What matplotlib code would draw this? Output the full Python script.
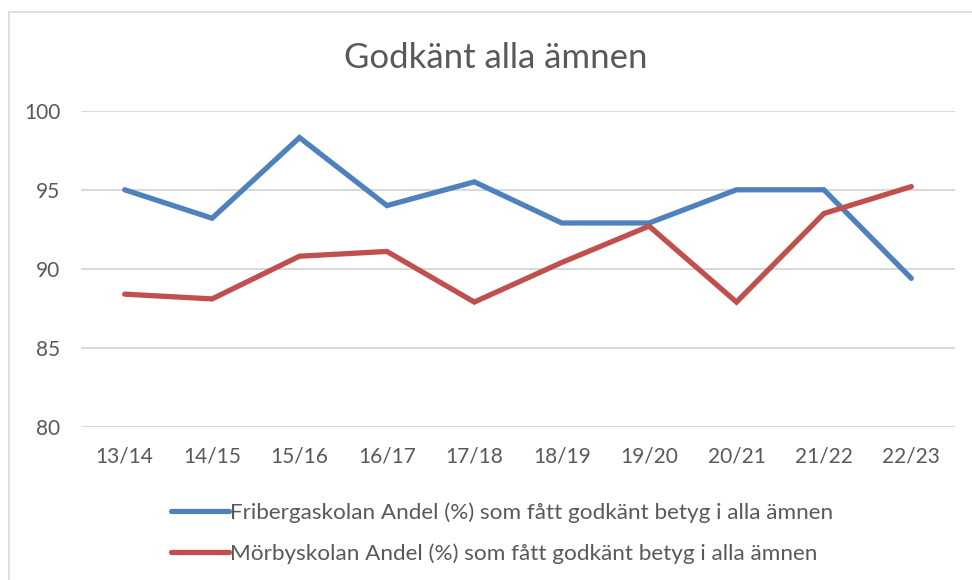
import matplotlib.pyplot as plt
from matplotlib.patches import Rectangle

years = ['13/14', '14/15', '15/16', '16/17', '17/18', '18/19', '19/20', '20/21', '21/22', '22/23']
friberga = [95.0, 93.2, 98.3, 94.0, 95.5, 92.9, 92.9, 95.0, 95.0, 89.4]
morby = [88.4, 88.1, 90.8, 91.1, 87.9, 90.4, 92.7, 87.9, 93.5, 95.2]
labels = ['Fribergaskolan Andel (%) som fått godkänt betyg i alla ämnen',
          'Mörbyskolan Andel (%) som fått godkänt betyg i alla ämnen']

plt.rcParams['font.family'] = ['Lato', 'DejaVu Sans']
grey = '#595959'

fig = plt.figure(figsize=(9.72, 5.8), dpi=100)
ax = fig.add_axes([81 / 972, 1 - 427 / 580, 874 / 972, (427 - 110.7) / 580])

x = range(len(years))
ax.plot(x, friberga, color='#4f81bd', lw=3.8, solid_capstyle='round', solid_joinstyle='miter', label=labels[0])
ax.plot(x, morby, color='#c0504d', lw=3.8, solid_capstyle='round', solid_joinstyle='miter', label=labels[1])

ax.set_xlim(-0.5, len(years) - 0.5)
ax.set_ylim(80, 100)
ax.set_yticks([80, 85, 90, 95, 100])
ax.set_xticks(list(x))
ax.set_xticklabels(years)
ax.grid(axis='y', color='#d9d9d9', lw=1.5)
ax.set_axisbelow(True)
for s in ax.spines.values():
    s.set_visible(False)
ax.tick_params(length=0, labelsize=15, colors=grey)
ax.tick_params(axis='x', pad=14)
ax.tick_params(axis='y', pad=15)

fig.text(496 / 972, 1 - 58 / 580, 'Godkänt alla ämnen', ha='center', va='center', fontsize=25, color=grey)

# outer chart frame
fig.patches.append(Rectangle((9 / 972, -0.1), 1.1, 1 - 12 / 580 + 0.1, transform=fig.transFigure,
                             fill=False, ec='#d9d9d9', lw=1.2))

leg = fig.legend(loc='upper left', bbox_to_anchor=(160 / 972, 1 - 491 / 580), frameon=False,
                 fontsize=16.2, handlelength=2.55, handletextpad=0.05, labelspacing=0.92, borderpad=0)
for t in leg.get_texts():
    t.set_color(grey)

fig.savefig('out.png', dpi=100)
